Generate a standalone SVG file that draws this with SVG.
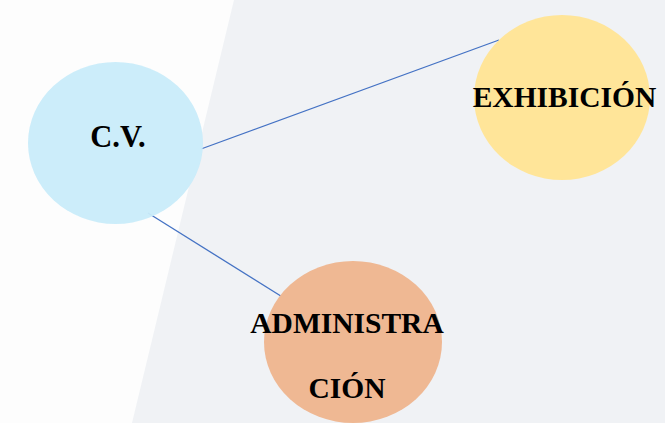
<svg xmlns="http://www.w3.org/2000/svg" width="665" height="423" viewBox="0 0 665 423">
<style>
.lbl{font-family:"Liberation Serif","Times New Roman",serif;font-weight:bold;font-size:29.5px;fill:#000;text-anchor:middle}
.conn{stroke:#4472c4;stroke-width:1.3;fill:none}
</style>
<rect x="0" y="0" width="665" height="423" fill="#fdfdfd"/>
<polygon points="234,0 665,0 665,423 132,423" fill="#f0f2f5"/>
<g id="connectors">
<line class="conn" x1="201" y1="149" x2="499" y2="40"/>
<line class="conn" x1="148" y1="213" x2="284" y2="298"/>
</g>
<g id="cv">
<ellipse cx="115.5" cy="143" rx="87.5" ry="81" fill="#c9ecfa" fill-opacity="0.95"/>
<text class="lbl" x="118" y="147" style="font-size:30.5px">C.V.</text>
</g>
<g id="exhibicion">
<ellipse cx="562" cy="97.5" rx="88" ry="82.5" fill="#ffe599"/>
<text class="lbl" x="564.5" y="107">EXHIBICIÓN</text>
</g>
<g id="administracion">
<ellipse cx="353" cy="342" rx="89" ry="81" fill="#efb893"/>
<text class="lbl" x="347" y="333">ADMINISTRA</text>
<text class="lbl" x="347" y="398">CIÓN</text>
</g>
</svg>
